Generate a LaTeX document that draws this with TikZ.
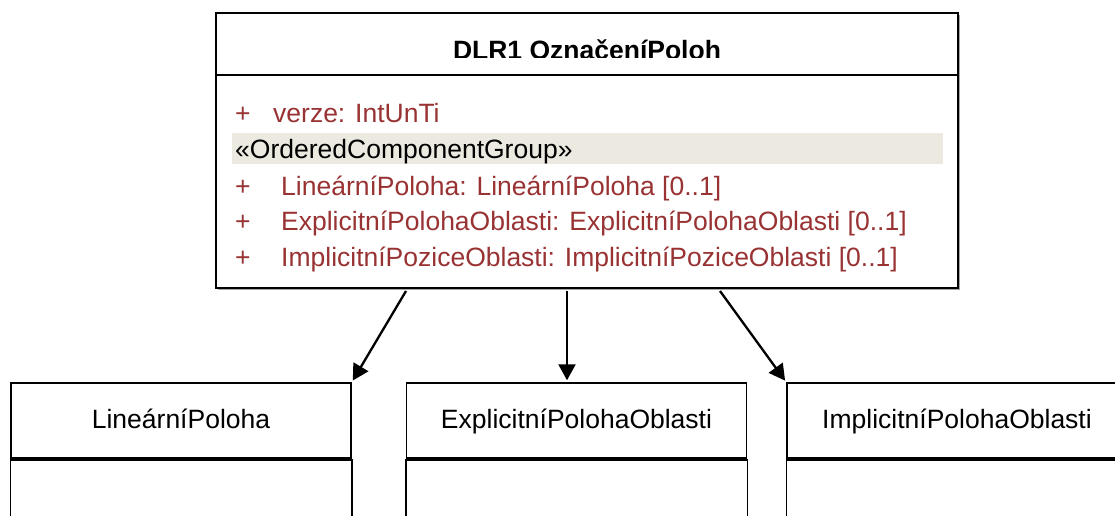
\documentclass[tikz,border=0pt]{standalone}
\usepackage{fontspec}
\setmainfont{Liberation Sans}
\usetikzlibrary{shadows}
\usetikzlibrary{positioning}
\usetikzlibrary{arrows.meta,calc}

\definecolor{attrred}{RGB}{153,51,51}
\definecolor{bandgray}{RGB}{236,234,224}

\begin{document}
\begin{tikzpicture}[x=1pt, y=-1pt,
  umlfont/.style={font=\fontsize{26.5}{30}\selectfont},
  attr/.style={umlfont, text=attrred, inner sep=0pt, anchor=base west},
  headbox/.style={umlfont, draw, line width=1.5pt, minimum width=340pt, minimum height=75pt, text height=19pt, text depth=4pt},
  link/.style={line width=2.3pt, -{Triangle[length=16pt,width=17pt]}, shorten >=2pt}]

 \useasboundingbox (0,0) rectangle (1115,515);
 \clip (0,0) rectangle (1115,515);

 % class box
 \node[draw, line width=2pt, minimum width=742pt, minimum height=275pt, fill=white,
       drop shadow={shadow xshift=1.5pt, shadow yshift=-1.5pt, fill=gray!70, opacity=1}] (cls) at (587,150.5) {};
 \draw[line width=2pt] (cls.west |- 0,75) -- (cls.east |- 0,75);

 %title (cut at the bottom)
 \begin{scope}
   \clip (216,14) rectangle (958,57);
   \node[umlfont, anchor=base, inner sep=0pt] (ttl) at (587,59) {\bfseries DLR1 OznačeníPoloh};
 \end{scope}

 %attributes
 \node[attr] (p0) at (235,122) {+};
 \node[attr] (verze) at (273,122) {verze: IntUnTi};
 \node[umlfont, fill=bandgray, anchor=west, minimum width=711pt, minimum height=31pt, inner sep=3pt,
       text width=705pt, align=left, text height=20pt, text depth=1pt] (stereo) at (232,148.5) {«OrderedComponentGroup»};

 \foreach \y/\name/\txt in {195/a1/{LineárníPoloha: LineárníPoloha [0..1]},
                           230/a2/{ExplicitníPolohaOblasti: ExplicitníPolohaOblasti [0..1]},
                           266/a3/{ImplicitníPoziceOblasti: ImplicitníPoziceOblasti [0..1]}} {
   \node[attr] (p\name) at (235,\y) {+};
   \node[attr] (\name) at (281,\y) {\txt};
 }

 %level 2
 \foreach \x/\name/\txt in {181/linP/LineárníPoloha, 576.5/explP/ExplicitníPolohaOblasti, 957/implP/ImplicitníPolohaOblasti} {
   \node[headbox] (\name) at (\x,420.5) {\txt};
   \draw[line width=1.5pt] (\name.south west) -- ++(0,80) (\name.south east) -- ++(0,80);
   \draw[line width=3.5pt] (\name.south west) -- (\name.south east);
 }

 %arrows
 \coordinate (s1) at (406,291);
 \coordinate (s2) at (567,291);
 \coordinate (s3) at (720,291);
 \draw[link] (s1) -- (linP.north east);
 \draw[link] (s2) -- (s2 |- explP.north);
 \draw[link] (s3) -- (implP.north west);

\end{tikzpicture}
\end{document}
